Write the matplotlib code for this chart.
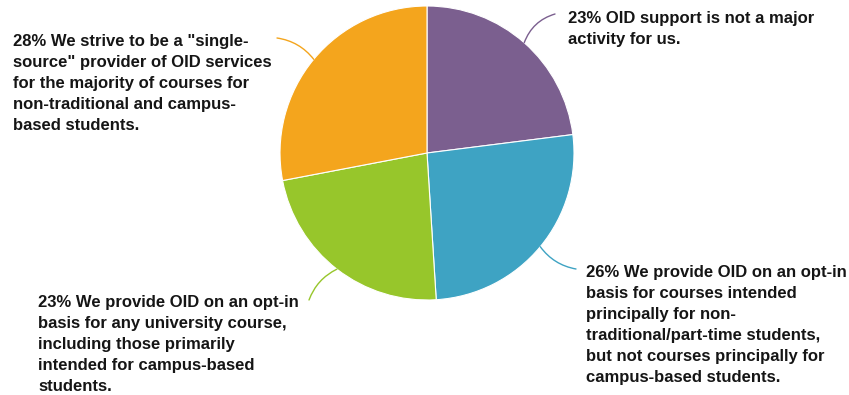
import numpy as np
import matplotlib
matplotlib.use("Agg")
import matplotlib.pyplot as plt

# survey answers, clockwise from 12 o'clock
shares = [23, 26, 23, 28]
labels = [
    "23% OID support is not a major\nactivity for us.",
    "26% We provide OID on an opt-in\nbasis for courses intended\nprincipally for non-\n"
    "traditional/part-time students,\nbut not courses principally for\ncampus-based students.",
    "23% We provide OID on an opt-in\nbasis for any university course,\nincluding those primarily\n"
    "intended for campus-based\nstudents.",
    "28% We strive to be a \"single-\nsource\" provider of OID services\nfor the majority of courses for\n"
    "non-traditional and campus-\nbased students.",
]
colors = ["#7b5f8f", "#3ea3c3", "#97c62b", "#f4a51d"]

W, H = 849, 395
CX, CY, R = 427, H - 153, 147

# where each label block starts (top-left) and where its leader line ends
text_pos = [(568, H - 11), (586, H - 265), (38, H - 295), (13, H - 34)]
line_end = [(555, H - 14), (576, H - 269), (309, H - 300), (277, H - 38)]
line_rad = [0.25, -0.2, -0.2, -0.2]

plt.rcParams["font.family"] = ["Liberation Sans", "DejaVu Sans"]

fig = plt.figure(figsize=(W / 100, H / 100), dpi=100, facecolor="white")
ax = fig.add_axes([0, 0, 1, 1])

wedges, _ = ax.pie(shares, colors=colors, startangle=90, counterclock=False,
                   center=(CX, CY), radius=R,
                   wedgeprops=dict(edgecolor="white", linewidth=0.8))

# pie() resets the limits, so pin the pixel-sized canvas afterwards
ax.set_xlim(0, W)
ax.set_ylim(0, H)
ax.set_aspect("equal")
ax.axis("off")

for w, txt, (tx, ty), (ex, ey), rad, c in zip(wedges, labels, text_pos,
                                               line_end, line_rad, colors):
    mid = np.deg2rad((w.theta1 + w.theta2) / 2)
    px, py = CX + R * np.cos(mid), CY + R * np.sin(mid)
    ax.annotate("", xy=(px, py), xytext=(ex, ey),
                arrowprops=dict(arrowstyle="-", color=c, lw=1.0,
                                connectionstyle=f"arc3,rad={rad}",
                                shrinkA=0, shrinkB=0))
    ax.text(tx, ty, txt, ha="left", va="top", fontsize=12,
            fontweight="bold", color="#151515", linespacing=1.5)

fig.savefig("out.png", dpi=100, facecolor="white")
